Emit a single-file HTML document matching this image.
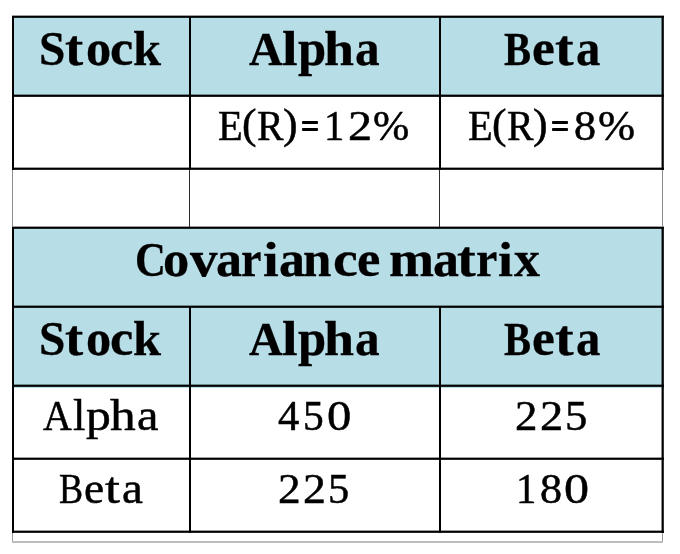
<!DOCTYPE html>
<html>
<head>
<meta charset="utf-8">
<style>
html,body{margin:0;padding:0;background:#fff;width:680px;height:554px;overflow:hidden;position:relative;}
.bg{position:absolute;background:#b7dde7;}
.k{position:absolute;background:#000;}
.h{position:absolute;height:3px;background:linear-gradient(to bottom,rgba(0,0,0,.38) 0,rgba(0,0,0,.38) 1px,#000 1px,#000 2px,rgba(0,0,0,.85) 2px,rgba(0,0,0,.85) 3px);}
.rb{position:absolute;background:linear-gradient(to right,rgba(0,0,0,.45) 0,rgba(0,0,0,.45) 1px,#000 1px,#000 2px,rgba(0,0,0,.8) 2px,rgba(0,0,0,.8) 3px);}
.g{position:absolute;background:#8c8c8c;}
.gl{position:absolute;font-family:"Liberation Serif",serif;font-size:42px;line-height:1;white-space:nowrap;transform-origin:0 0;-webkit-text-stroke:0.5px #000;color:#000;}
.gb{position:absolute;font-family:"Liberation Serif",serif;font-weight:bold;line-height:1;white-space:nowrap;transform-origin:0 0;-webkit-text-stroke:0.3px #000;color:#000;}
.eq{position:absolute;height:2.7px;background:#000;border-radius:1px;}
body{will-change:transform;}
</style>
</head>
<body>
<!-- backgrounds -->
<div class="bg" style="left:12px;top:16px;width:652px;height:81px;"></div>
<div class="bg" style="left:12px;top:227px;width:652px;height:161px;"></div>

<!-- horizontal black lines -->
<div class="h" style="left:12px;top:15px;width:652px;"></div>
<div class="h" style="left:12px;top:94px;width:652px;"></div>
<div class="h" style="left:12px;top:167px;width:652px;"></div>
<div class="h" style="left:12px;top:226px;width:652px;"></div>
<div class="h" style="left:12px;top:305px;width:652px;"></div>
<div class="h" style="left:12px;top:384px;width:652px;"></div>
<div class="h" style="left:12px;top:457px;width:652px;"></div>
<div class="h" style="left:12px;top:530px;width:652px;"></div>

<!-- vertical lines rows 1-2 -->
<div class="k" style="left:12px;top:16px;width:2px;height:154px;"></div>
<div class="k" style="left:189px;top:16px;width:2px;height:154px;"></div>
<div class="k" style="left:439px;top:16px;width:2px;height:154px;"></div>
<div class="rb" style="left:661px;top:16px;width:3px;height:154px;"></div>
<!-- row 3 -->
<div class="g" style="left:12px;top:170px;width:1px;height:57px;"></div>
<div class="k" style="left:189px;top:170px;width:1px;height:57px;background:#2b2b2b;"></div>
<div class="k" style="left:439px;top:170px;width:1px;height:57px;background:#2b2b2b;"></div>
<div class="g" style="left:662px;top:170px;width:1px;height:57px;"></div>
<!-- rows 4-7 outer -->
<div class="k" style="left:12px;top:227px;width:2px;height:306px;"></div>
<div class="rb" style="left:661px;top:227px;width:3px;height:306px;"></div>
<!-- rows 5-7 inner -->
<div class="k" style="left:189px;top:306px;width:2px;height:227px;"></div>
<div class="k" style="left:439px;top:306px;width:2px;height:227px;"></div>
<!-- bottom extra row -->
<div class="g" style="left:12px;top:533px;width:1px;height:10px;background:#9a9a9a;"></div>
<div class="g" style="left:662px;top:533px;width:1px;height:10px;background:#9a9a9a;"></div>
<div class="g" style="left:12px;top:541px;width:651px;height:2px;background:#bdbdbd;"></div>

<!-- glyphs -->
<span class="gl" style="left:217.77px;top:105px;font-size:42.3px;transform:scaleX(0.956);">E</span>
<span class="gl" style="left:242.05px;top:103px;font-size:42px;transform:scaleX(1.037);">(</span>
<span class="gl" style="left:256.69px;top:105px;font-size:42px;transform:scaleX(0.947);">R</span>
<span class="gl" style="left:282.95px;top:103px;font-size:42px;transform:scaleX(1.045);">)</span>
<div class="eq" style="left:301.8px;top:121.4px;width:16.3px;"></div>
<div class="eq" style="left:301.8px;top:128.4px;width:16.3px;"></div>
<span class="gl" style="left:324.27px;top:105px;font-size:42px;transform:scaleX(0.968);">1</span>
<span class="gl" style="left:347.87px;top:105px;font-size:42px;transform:scaleX(1.148);">2</span>
<span class="gl" style="left:372.77px;top:105px;font-size:42px;transform:scaleX(1.036);">%</span>
<span class="gl" style="left:467.77px;top:105px;font-size:42.3px;transform:scaleX(0.956);">E</span>
<span class="gl" style="left:492.05px;top:103px;font-size:42px;transform:scaleX(1.037);">(</span>
<span class="gl" style="left:506.69px;top:105px;font-size:42px;transform:scaleX(0.947);">R</span>
<span class="gl" style="left:532.95px;top:103px;font-size:42px;transform:scaleX(1.045);">)</span>
<div class="eq" style="left:551.8px;top:121.4px;width:16.7px;"></div>
<div class="eq" style="left:551.8px;top:128.4px;width:16.7px;"></div>
<span class="gl" style="left:573.68px;top:105px;font-size:42px;transform:scaleX(1.049);">8</span>
<span class="gl" style="left:598.14px;top:105px;font-size:42px;transform:scaleX(1.061);">%</span>
<span class="gl" style="left:277.62px;top:395px;font-size:42px;transform:scaleX(1.014);">4</span>
<span class="gl" style="left:302.94px;top:395px;font-size:42px;transform:scaleX(0.987);">5</span>
<span class="gl" style="left:326.64px;top:395px;font-size:42px;transform:scaleX(1.158);">0</span>
<span class="gl" style="left:515.20px;top:395px;font-size:42px;transform:scaleX(1.067);">2</span>
<span class="gl" style="left:540.03px;top:395px;font-size:42px;transform:scaleX(1.107);">2</span>
<span class="gl" style="left:564.57px;top:395px;font-size:42px;transform:scaleX(1.062);">5</span>
<span class="gl" style="left:277.58px;top:468px;font-size:42px;transform:scaleX(1.079);">2</span>
<span class="gl" style="left:302.96px;top:468px;font-size:42px;transform:scaleX(1.090);">2</span>
<span class="gl" style="left:327.59px;top:468px;font-size:42px;transform:scaleX(1.010);">5</span>
<span class="gl" style="left:515.67px;top:468px;font-size:42px;transform:scaleX(0.968);">1</span>
<span class="gl" style="left:540.38px;top:468px;font-size:42px;transform:scaleX(1.049);">8</span>
<span class="gl" style="left:563.99px;top:468px;font-size:42px;transform:scaleX(1.191);">0</span>
<span class="gl" style="left:43.04px;top:395px;font-size:42.7px;transform:scaleX(0.934);">A</span>
<span class="gl" style="left:72.76px;top:393px;font-size:44.4px;transform:scaleX(1.004);">l</span>
<span class="gl" style="left:85.58px;top:394px;font-size:44.1px;transform:scaleX(1.128);">p</span>
<span class="gl" style="left:109.79px;top:393px;font-size:44.4px;transform:scaleX(1.158);">h</span>
<span class="gl" style="left:136.88px;top:394px;font-size:44.1px;transform:scaleX(1.094);">a</span>
<span class="gl" style="left:58.97px;top:467px;font-size:43px;transform:scaleX(0.840);">B</span>
<span class="gl" style="left:84.39px;top:467px;font-size:44.1px;transform:scaleX(1.028);">e</span>
<span class="gl" style="left:104.57px;top:466px;font-size:45px;transform:scaleX(1.195);">t</span>
<span class="gl" style="left:121.81px;top:467px;font-size:44.1px;transform:scaleX(1.066);">a</span>
<span class="gb" style="left:39.43px;top:26px;font-size:47.6px;transform:scaleX(0.995);">S</span>
<span class="gb" style="left:64.58px;top:22px;font-size:51.5px;transform:scaleX(1.061);">t</span>
<span class="gb" style="left:86.13px;top:23px;font-size:51px;transform:scaleX(0.986);">o</span>
<span class="gb" style="left:110.36px;top:23px;font-size:51px;transform:scaleX(1.029);">c</span>
<span class="gb" style="left:132.90px;top:25px;font-size:48.3px;transform:scaleX(1.043);">k</span>
<span class="gb" style="left:248.59px;top:26px;font-size:47.3px;transform:scaleX(0.987);">A</span>
<span class="gb" style="left:282.18px;top:25px;font-size:48.8px;transform:scaleX(1.152);">l</span>
<span class="gb" style="left:297.51px;top:23px;font-size:50px;transform:scaleX(1.014);">p</span>
<span class="gb" style="left:324.22px;top:25px;font-size:48.5px;transform:scaleX(1.113);">h</span>
<span class="gb" style="left:354.86px;top:23px;font-size:51px;transform:scaleX(0.966);">a</span>
<span class="gb" style="left:503.86px;top:26px;font-size:47.2px;transform:scaleX(0.859);">B</span>
<span class="gb" style="left:532.40px;top:23px;font-size:51px;transform:scaleX(1.006);">e</span>
<span class="gb" style="left:555.36px;top:22px;font-size:51.5px;transform:scaleX(1.086);">t</span>
<span class="gb" style="left:576.08px;top:23px;font-size:51px;transform:scaleX(0.954);">a</span>
<span class="gb" style="left:39.43px;top:316px;font-size:47.6px;transform:scaleX(0.995);">S</span>
<span class="gb" style="left:64.58px;top:312px;font-size:51.5px;transform:scaleX(1.061);">t</span>
<span class="gb" style="left:86.13px;top:313px;font-size:51px;transform:scaleX(0.986);">o</span>
<span class="gb" style="left:110.36px;top:313px;font-size:51px;transform:scaleX(1.029);">c</span>
<span class="gb" style="left:132.90px;top:315px;font-size:48.3px;transform:scaleX(1.043);">k</span>
<span class="gb" style="left:248.59px;top:316px;font-size:47.3px;transform:scaleX(0.987);">A</span>
<span class="gb" style="left:282.18px;top:315px;font-size:48.8px;transform:scaleX(1.152);">l</span>
<span class="gb" style="left:297.51px;top:313px;font-size:50px;transform:scaleX(1.014);">p</span>
<span class="gb" style="left:324.22px;top:315px;font-size:48.5px;transform:scaleX(1.113);">h</span>
<span class="gb" style="left:354.86px;top:313px;font-size:51px;transform:scaleX(0.966);">a</span>
<span class="gb" style="left:503.86px;top:316px;font-size:47.2px;transform:scaleX(0.859);">B</span>
<span class="gb" style="left:532.40px;top:313px;font-size:51px;transform:scaleX(1.006);">e</span>
<span class="gb" style="left:555.36px;top:312px;font-size:51.5px;transform:scaleX(1.086);">t</span>
<span class="gb" style="left:576.08px;top:313px;font-size:51px;transform:scaleX(0.954);">a</span>
<span class="gb" style="left:135.35px;top:237px;font-size:47.6px;transform:scaleX(0.898);">C</span>
<span class="gb" style="left:163.26px;top:234px;font-size:51px;transform:scaleX(1.027);">o</span>
<span class="gb" style="left:190.36px;top:234px;font-size:51px;transform:scaleX(1.078);">v</span>
<span class="gb" style="left:216.07px;top:234px;font-size:51px;transform:scaleX(1.022);">a</span>
<span class="gb" style="left:241.10px;top:234px;font-size:51px;transform:scaleX(0.904);">r</span>
<span class="gb" style="left:262.73px;top:235px;font-size:49px;transform:scaleX(1.155);">i</span>
<span class="gb" style="left:278.68px;top:234px;font-size:51px;transform:scaleX(1.018);">a</span>
<span class="gb" style="left:303.38px;top:234px;font-size:51px;transform:scaleX(0.999);">n</span>
<span class="gb" style="left:332.66px;top:234px;font-size:51px;transform:scaleX(1.094);">c</span>
<span class="gb" style="left:356.56px;top:234px;font-size:51px;transform:scaleX(1.032);">e</span>
<span class="gb" style="left:388.61px;top:234px;font-size:51px;transform:scaleX(1.061);">m</span>
<span class="gb" style="left:432.78px;top:234px;font-size:51px;transform:scaleX(1.018);">a</span>
<span class="gb" style="left:457.26px;top:233px;font-size:51.5px;transform:scaleX(1.092);">t</span>
<span class="gb" style="left:476.25px;top:234px;font-size:51px;transform:scaleX(0.943);">r</span>
<span class="gb" style="left:497.58px;top:235px;font-size:49px;transform:scaleX(1.097);">i</span>
<span class="gb" style="left:514.15px;top:234px;font-size:51px;transform:scaleX(1.019);">x</span>
</body>
</html>
